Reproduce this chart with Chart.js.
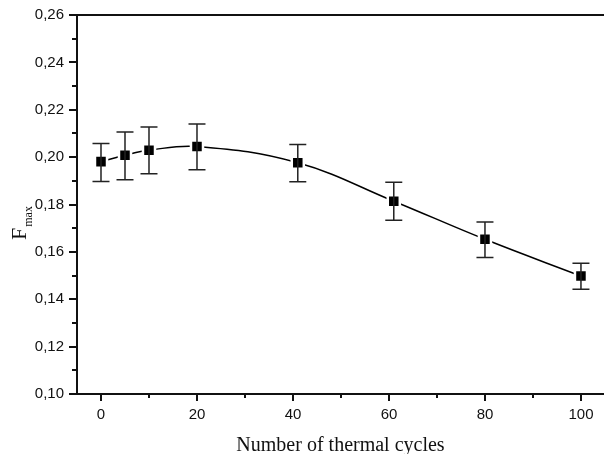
<!DOCTYPE html>
<html>
<head>
<meta charset="utf-8">
<script src="https://cdn.jsdelivr.net/npm/chart.js@4/dist/chart.umd.min.js"></script>
<style>
  html, body { margin: 0; padding: 0; background: #fff; }
  #wrap { width: 604px; height: 454px; }
</style>
</head>
<body>
<div id="wrap"><canvas id="myChart" width="604" height="454"></canvas></div>
<script>
// dados
const cycles = [0, 5, 10, 20, 41, 61, 80, 100];
const fmax = [0.1981, 0.2008, 0.2029, 0.2045, 0.1976, 0.1814, 0.1653, 0.1498];
const errHigh = [0.2057, 0.2106, 0.2127, 0.2140, 0.2053, 0.1894, 0.1726, 0.1552];
const errLow = [0.1897, 0.1905, 0.1930, 0.1947, 0.1896, 0.1734, 0.1576, 0.1442];

const xTicks = [0, 20, 40, 60, 80, 100];
const xMinor = [10, 30, 50, 70, 90];
const yTicks = [0.10, 0.12, 0.14, 0.16, 0.18, 0.20, 0.22, 0.24, 0.26];
const yMinor = [0.11, 0.13, 0.15, 0.17, 0.19, 0.21, 0.23, 0.25];

const xTitle = 'Number of thermal cycles';
const yTitle = 'F';
const yTitleSub = 'max';

// barras de erro, ticks e títulos
const extras = {
  id: 'extras',
  afterDatasetsDraw(chart) {
    const ctx = chart.ctx;
    const xs = chart.scales.x, ys = chart.scales.y;
    ctx.save();
    ctx.strokeStyle = '#222';
    ctx.lineWidth = 1.5;
    for (let i = 0; i < cycles.length; i++) {
      const px = xs.getPixelForValue(cycles[i]);
      const hi = ys.getPixelForValue(errHigh[i]);
      const lo = ys.getPixelForValue(errLow[i]);
      ctx.beginPath();
      ctx.moveTo(px, hi); ctx.lineTo(px, lo);
      ctx.moveTo(px - 8.5, hi); ctx.lineTo(px + 8.5, hi);
      ctx.moveTo(px - 8.5, lo); ctx.lineTo(px + 8.5, lo);
      ctx.stroke();
    }
    ctx.restore();
  },
  afterDraw(chart) {
    const ctx = chart.ctx;
    const a = chart.chartArea;
    const xs = chart.scales.x, ys = chart.scales.y;
    ctx.save();
    ctx.strokeStyle = '#111';
    // borda superior
    ctx.lineWidth = 2;
    ctx.beginPath();
    ctx.moveTo(a.left - 1, a.top); ctx.lineTo(a.right, a.top);
    ctx.stroke();
    // ticks
    ctx.lineWidth = 2;
    ctx.beginPath();
    xTicks.forEach(v => { const p = Math.round(xs.getPixelForValue(v)); ctx.moveTo(p, a.bottom); ctx.lineTo(p, a.bottom + 7); });
    xMinor.forEach(v => { const p = Math.round(xs.getPixelForValue(v)); ctx.moveTo(p, a.bottom); ctx.lineTo(p, a.bottom + 4); });
    yTicks.forEach(v => { const p = Math.round(ys.getPixelForValue(v)); ctx.moveTo(a.left, p); ctx.lineTo(a.left - 8, p); });
    yMinor.forEach(v => { const p = Math.round(ys.getPixelForValue(v)); ctx.moveTo(a.left, p); ctx.lineTo(a.left - 5, p); });
    ctx.stroke();
    // títulos
    ctx.fillStyle = '#111';
    ctx.font = '20px "Liberation Serif", "Times New Roman", serif';
    ctx.textAlign = 'center';
    ctx.textBaseline = 'alphabetic';
    ctx.fillText(xTitle, (a.left + a.right) / 2, 451);
    ctx.translate(26, 240);
    ctx.rotate(-Math.PI / 2);
    ctx.textAlign = 'left';
    ctx.font = '22px "Liberation Serif", "Times New Roman", serif';
    ctx.fillText(yTitle, 0, 0);
    const fw = ctx.measureText(yTitle).width;
    ctx.font = '12px "Liberation Serif", "Times New Roman", serif';
    ctx.fillText(yTitleSub, fw + 1, 6);
    ctx.restore();
  }
};

const config = {
  type: 'line',
  data: {
    datasets: [
      {
        data: cycles.map((c, i) => ({x: c, y: fmax[i]})),
        borderColor: '#000',
        borderWidth: 1.5,
        tension: 0.4,
        pointStyle: 'rect',
        pointRadius: 8.5,
        pointBackgroundColor: '#000',
        pointBorderColor: '#fff',
        pointBorderWidth: 2.5,
        pointHoverRadius: 8.5
      }
    ]
  },
  options: {
    responsive: false,
    animation: false,
    layout: { autoPadding: false, padding: { top: 15, left: 0, right: 0, bottom: 0 } },
    plugins: {
      legend: { display: false },
      tooltip: { enabled: false }
    },
    scales: {
      x: {
        type: 'linear',
        min: -5,
        max: 104.8,
        afterBuildTicks: s => { s.ticks = xTicks.map(v => ({value: v})); },
        afterFit: s => { s.height = 60; s.paddingLeft = 0; s.paddingRight = 0; },
        grid: { display: false, drawTicks: false },
        border: { display: true, color: '#111', width: 2 },
        ticks: {
          padding: 12,
          color: '#111',
          maxRotation: 0,
          font: { family: '"Liberation Sans", Arial, sans-serif', size: 15 }
        }
      },
      y: {
        min: 0.10,
        max: 0.26,
        afterBuildTicks: s => { s.ticks = yTicks.map(v => ({value: v})); },
        afterFit: s => { s.width = 77; s.paddingTop = 0; s.paddingBottom = 0; },
        grid: { display: false, drawTicks: false },
        border: { display: true, color: '#111', width: 2 },
        ticks: {
          padding: 13,
          color: '#111',
          font: { family: '"Liberation Sans", Arial, sans-serif', size: 15 },
          callback: v => v.toFixed(2).replace('.', ',')
        }
      }
    }
  },
  plugins: [extras]
};

const ctx = document.getElementById('myChart');
const myChart = new Chart(ctx, config);
</script>
</body>
</html>
